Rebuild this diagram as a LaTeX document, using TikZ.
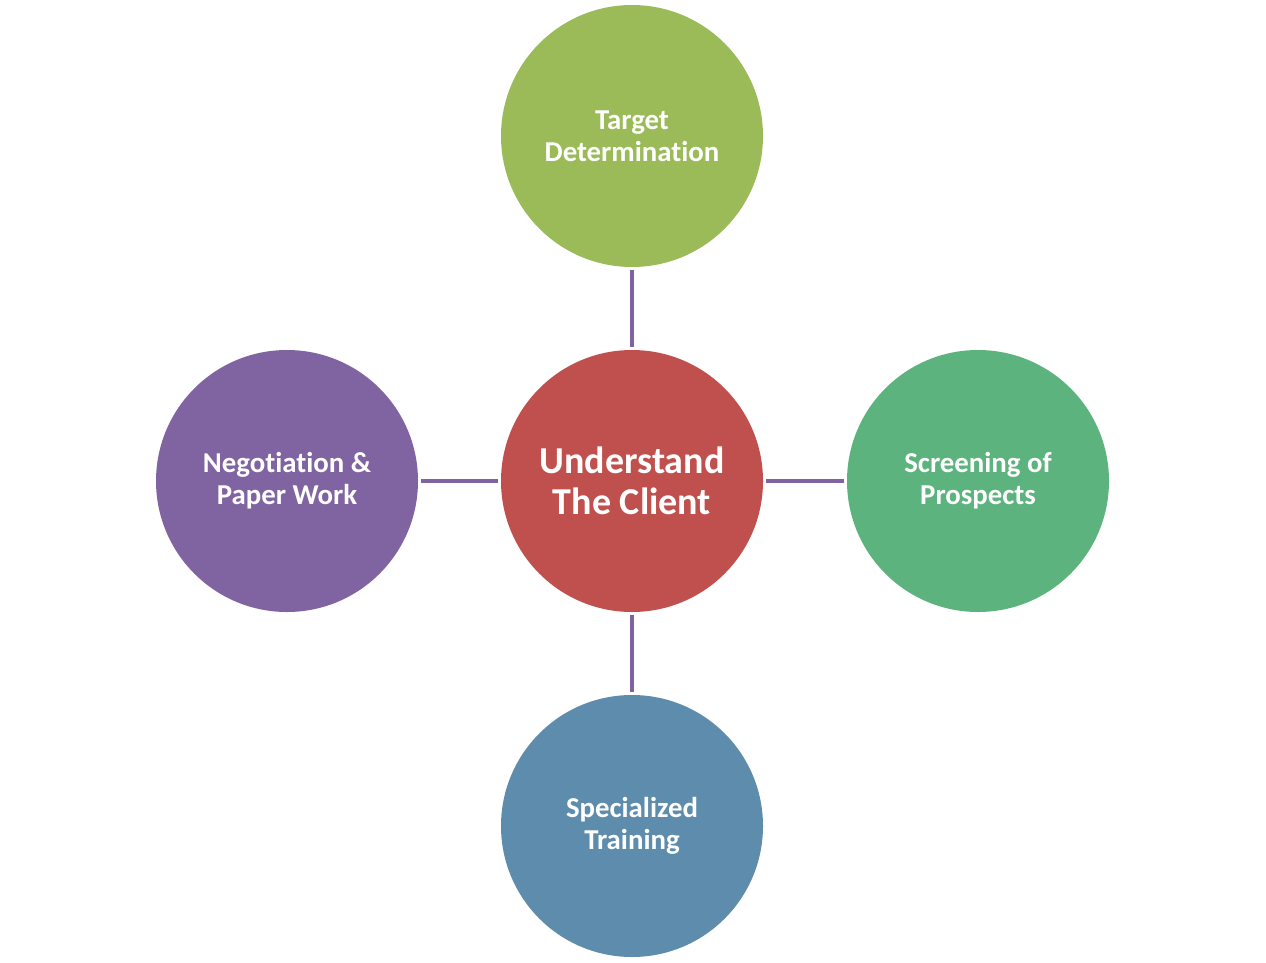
\documentclass[tikz,border=0pt]{standalone}
\usepackage{fontspec}
\setmainfont{Carlito}[Ligatures={NoCommon}]
\definecolor{cgreen}{RGB}{155,187,89}
\definecolor{cred}{RGB}{192,80,77}
\definecolor{cteal}{RGB}{93,179,125}
\definecolor{cpurple}{RGB}{128,100,162}
\definecolor{cblue}{RGB}{94,140,172}
\begin{document}
\begin{tikzpicture}[x=1pt,y=-1pt,
  bubble/.style={circle,minimum size=262pt,inner sep=0pt,text=white,align=center,
    font=\fontsize{28.8}{32}\selectfont\bfseries},
  hub/.style={bubble,font=\fontsize{38}{41}\selectfont\bfseries},
  link/.style={draw=cpurple,line width=4pt}]
\useasboundingbox (0,0) rectangle (1266,962);
\node[hub,fill=cred] (c) at (632,481) {Understand\\The Client};
\node[bubble,fill=cgreen] (t) at (632,136) {Target\\Determination};
\node[bubble,fill=cteal] (r) at (978,481) {Screening of\\Prospects};
\node[bubble,fill=cblue] (b) at (632,826) {Specialized\\Training};
\node[bubble,fill=cpurple] (l) at (287,481) {Negotiation \&\\Paper Work};
\draw[link,shorten <=3pt,shorten >=3pt] (t) -- (c);
\draw[link,shorten <=3pt,shorten >=3pt] (c) -- (r);
\draw[link,shorten <=3pt,shorten >=3pt] (c) -- (b);
\draw[link,shorten <=3pt,shorten >=3pt] (l) -- (c);
\end{tikzpicture}
\end{document}
